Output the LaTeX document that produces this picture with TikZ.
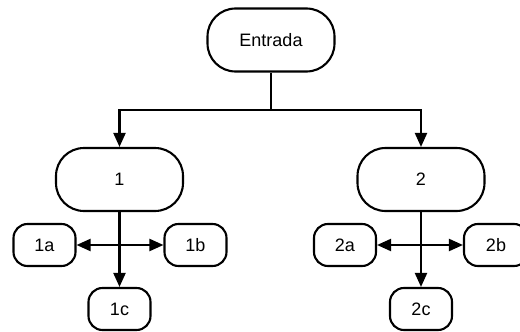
\documentclass[tikz,border=0pt]{standalone}
\usepackage{fontspec}
\setmainfont{Liberation Sans}
\usetikzlibrary{arrows.meta}
\begin{document}
\begin{tikzpicture}[x=1pt,y=-1pt,
  every node/.style={font=\fontsize{18}{20}\selectfont},
  bigbox/.style={draw, line width=2.1pt, rounded corners=28pt, minimum width=127pt, minimum height=63pt, inner sep=0pt},
  smallbox/.style={draw, line width=2.1pt, rounded corners=14pt, minimum width=62pt, minimum height=42pt, inner sep=0pt},
  conn/.style={line width=2.1pt, -{Triangle[length=14pt,width=12pt]}},
  plainconn/.style={line width=2.1pt}]
\useasboundingbox (0,0) rectangle (520,332);
\node[bigbox] (entrada) at (271,40) {Entrada};
\node[bigbox] (n1) at (119.5,179.5) {1};
\node[bigbox] (n2) at (421,179.5) {2};
\node[smallbox] (n1a) at (44.5,245) {1a};
\node[smallbox] (n1b) at (195.5,245) {1b};
\node[smallbox] (n1c) at (119.5,309) {1c};
\node[smallbox] (n2a) at (345,245) {2a};
\node[smallbox, minimum width=64pt] (n2b) at (496,245) {2b};
\node[smallbox] (n2c) at (421,309) {2c};
\coordinate (j) at (271,110);
\coordinate (c1) at (119.5,245);
\coordinate (c2) at (421,245);
\draw[plainconn] (entrada.south) -- (j);
\draw[conn] (j) -| (n1.north);
\draw[conn] (j) -| (n2.north);
\draw[conn] (n1.south) -- (n1c.north);
\draw[conn] (c1) -- (n1a.east);
\draw[conn] (c1) -- (n1b.west);
\draw[conn] (n2.south) -- (n2c.north);
\draw[conn] (c2) -- (n2a.east);
\draw[conn] (c2) -- (n2b.west);
\end{tikzpicture}
\end{document}
